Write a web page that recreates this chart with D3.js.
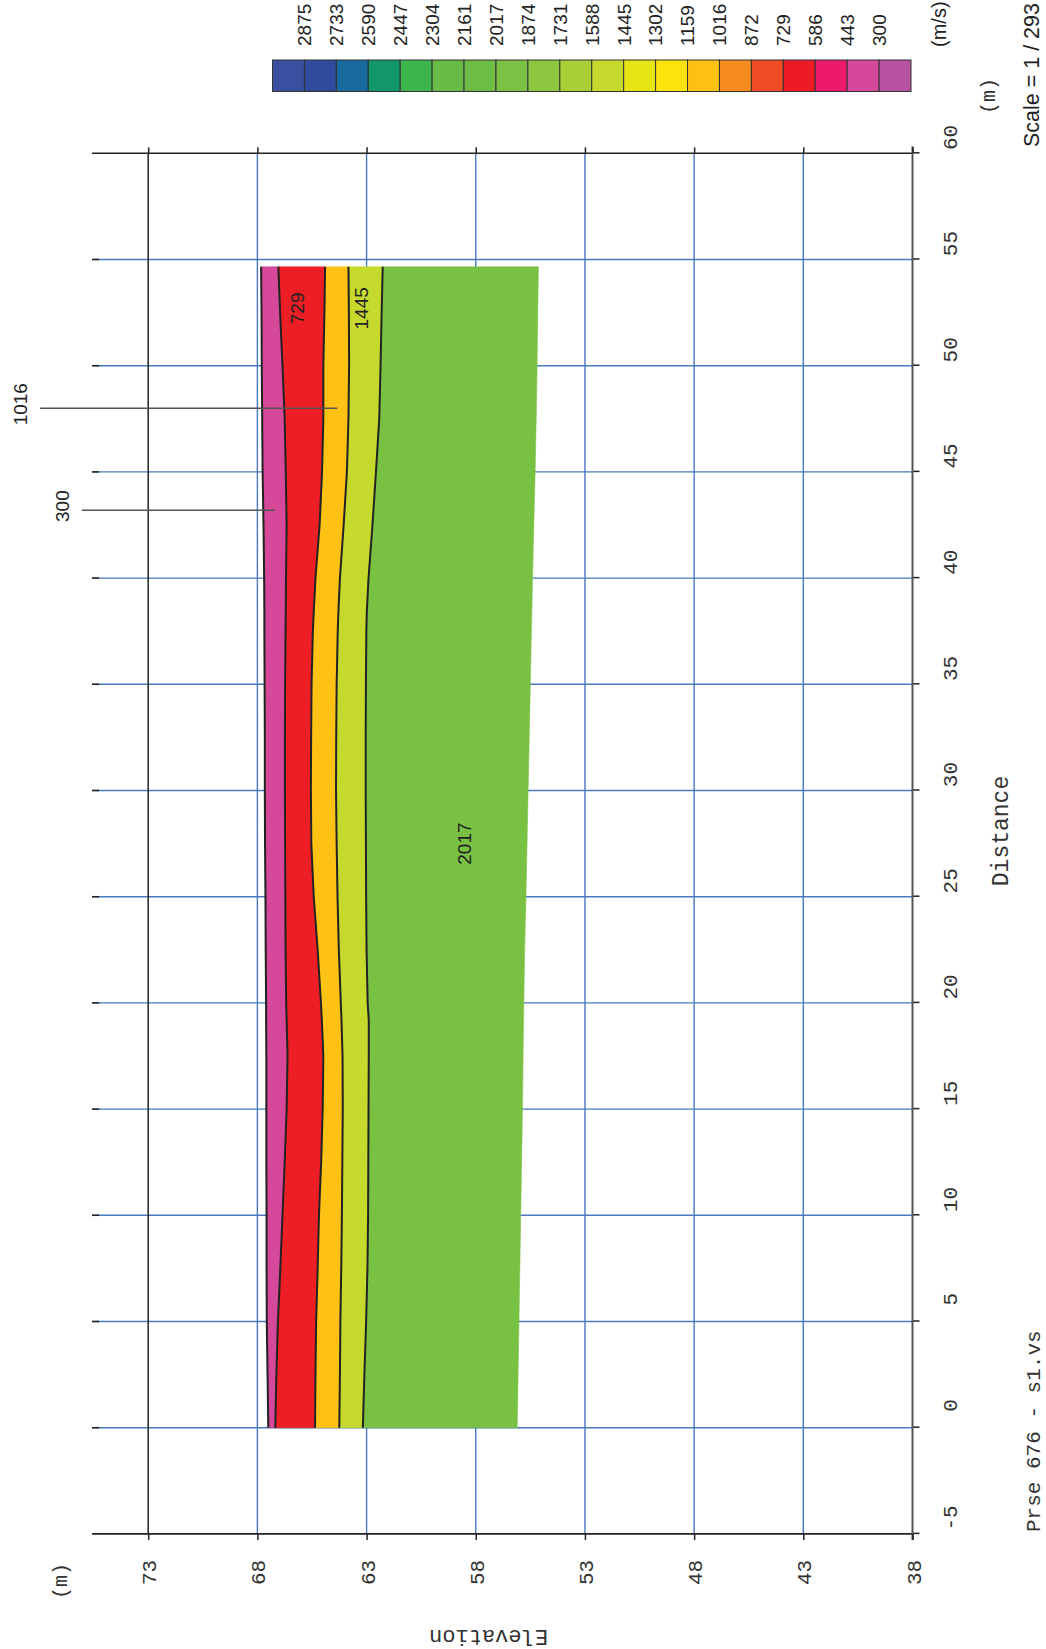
<!DOCTYPE html>
<html><head><meta charset="utf-8">
<script src="https://cdn.jsdelivr.net/npm/d3@7"></script>
<style>body{margin:0;background:#fff}</style>
</head><body><svg id="c" width="1046" height="1649"></svg>
<script>
// ---------------- data ----------------
const distTicks = [-5, 0, 5, 10, 15, 20, 25, 30, 35, 40, 45, 50, 55, 60];
const elevTicks = [73, 68, 63, 58, 53, 48, 43, 38];
const legendLabels = [2875, 2733, 2590, 2447, 2304, 2161, 2017, 1874, 1731, 1588, 1445, 1302, 1159, 1016, 872, 729, 586, 443, 300];
const legendColors = ['#3a4f9f','#2f4b9d','#196a9e','#12976a','#3cb54a','#68bb46','#6dbd45','#7bc143','#8dc63f','#a9cf38',
                      '#c6da2e','#e7e514','#fce30b','#fdc113','#f68b1f','#ef4b24','#ed1c24','#ec1a68','#d5489a','#b6529f'];

// distance along profile (m)
const dist = [0, 2.5, 5, 7.5, 10, 12.5, 15, 17.5, 19.2, 20, 22.5, 25, 27.5, 30, 32.5, 35, 37.5, 38.4, 40, 42.5, 45, 47.5, 50, 52.5, 54.66];
// elevations (m) of surfaces
const surfTop = [67.50, 67.535, 67.57, 67.58, 67.58, 67.59, 67.59, 67.59, 67.60, 67.60, 67.62, 67.63, 67.65, 67.66, 67.66, 67.67, 67.68, 67.68, 67.69, 67.72, 67.76, 67.78, 67.80, 67.81, 67.83];
const bound1  = [67.18, 67.13, 67.06, 66.95, 66.85, 66.75, 66.66, 66.62, 66.66, 66.68, 66.71, 66.72, 66.73, 66.74, 66.74, 66.73, 66.71, 66.70, 66.69, 66.66, 66.70, 66.75, 66.85, 66.96, 67.04];
const bound2  = [65.36, 65.34, 65.31, 65.24, 65.18, 65.08, 65.01, 64.98, 65.05, 65.09, 65.24, 65.42, 65.53, 65.55, 65.54, 65.52, 65.46, 65.42, 65.34, 65.15, 65.04, 64.98, 64.98, 64.93, 64.90];
const bound3  = [64.25, 64.22, 64.20, 64.16, 64.13, 64.11, 64.09, 64.10, 64.15, 64.18, 64.27, 64.33, 64.37, 64.40, 64.39, 64.37, 64.32, 64.29, 64.22, 64.05, 63.90, 63.83, 63.80, 63.81, 63.83];
const bound4  = [63.17, 63.10, 63.02, 62.96, 62.93, 62.92, 62.91, 62.90, 62.90, 62.95, 63.00, 63.02, 63.03, 63.04, 63.04, 63.03, 63.01, 62.99, 62.91, 62.73, 62.57, 62.42, 62.36, 62.31, 62.26];
const surfBot = [56.10, 56.06, 56.02, 55.98, 55.94, 55.90, 55.86, 55.83, 55.81, 55.80, 55.76, 55.70, 55.65, 55.60, 55.55, 55.50, 55.45, 55.43, 55.40, 55.34, 55.28, 55.23, 55.19, 55.16, 55.13];

const layerVel    = [300, 729, 1016, 1445, 2017];
const layerColors = ['#d5489a', '#ed1f24', '#fec214', '#c6da2d', '#79c143'];

// labels inside layers: [text, distance, elevation]
const innerLabels = [['729', 52.7, 66.20], ['1445', 52.7, 63.26], ['2017', 27.5, 58.53]];
// callouts: [text, distance, elevation of tip, elevation of start]
const callouts = [['1016', 48.0, 64.34, 77.95], ['300', 43.2, 67.19, 76.04]];

// ---------------- drawing ----------------
const W = 1046, H = 1649;
const MONO = '"Liberation Mono", "DejaVu Sans Mono", monospace';
const SANS = '"Liberation Sans", Arial, sans-serif';
const svg = d3.select('#c');
svg.append('rect').attr('width', W).attr('height', H).attr('fill', '#fff');
// chart drawn in its natural orientation, then rotated 90° counter-clockwise
const g = svg.append('g').attr('transform', `translate(0,${H}) rotate(-90)`);

const xD = d3.scaleLinear().domain([-5, 60]).range([115.1, 1495.7]);
const yE = d3.scaleLinear().domain([38, 73]).range([912.5, 148.2]);
const elevTop = 75.57;
const fTop = yE(elevTop), fBot = yE(38);
const BLUE = '#4a78c2', INK = '#222';

// grid
const grid = g.append('g');
distTicks.filter(d => d > -5 && d < 60).forEach(d => {
  grid.append('line').attr('x1', xD(d)).attr('x2', xD(d)).attr('y1', fTop).attr('y2', fBot)
    .attr('stroke', BLUE).attr('stroke-width', 1.4);
  grid.append('line').attr('x1', xD(d)).attr('x2', xD(d)).attr('y1', fTop).attr('y2', fTop + 7)
    .attr('stroke', INK).attr('stroke-width', 1.5);
});
elevTicks.filter(e => e > 38).forEach(e => {
  grid.append('line').attr('x1', xD(-5)).attr('x2', xD(60)).attr('y1', yE(e)).attr('y2', yE(e))
    .attr('stroke', e === 73 ? INK : BLUE).attr('stroke-width', e === 73 ? 1.5 : 1.4);
});

// section
const rows = dist.map((d, i) => ({d, s: [surfTop[i], bound1[i], bound2[i], bound3[i], bound4[i], surfBot[i]]}));
const sec = g.append('g');
layerVel.forEach((v, k) => {
  const area = d3.area().x(r => xD(r.d)).y0(r => yE(r.s[k + 1])).y1(r => yE(r.s[k]));
  sec.append('path').attr('d', area(rows)).attr('fill', layerColors[k]).attr('stroke', layerColors[k]).attr('stroke-width', 0.5);
});
for (let k = 0; k < 5; k++) {
  const line = d3.line().x(r => xD(r.d)).y(r => yE(r.s[k]));
  sec.append('path').attr('d', line(rows)).attr('fill', 'none').attr('stroke', INK).attr('stroke-width', 2);
}
innerLabels.forEach(([t, d, e]) => {
  sec.append('text').attr('x', xD(d)).attr('y', yE(e)).attr('dy', '0.36em').attr('text-anchor', 'middle')
    .style('font-family', SANS).style('font-size', '19px').attr('fill', INK).text(t);
});
callouts.forEach(([t, d, eTip, eStart]) => {
  sec.append('line').attr('x1', xD(d)).attr('x2', xD(d)).attr('y1', yE(eStart)).attr('y2', yE(eTip))
    .attr('stroke', '#555').attr('stroke-width', 1.5);
  sec.append('text').attr('x', xD(d) + 4).attr('y', yE(eStart) - 20).attr('dy', '0.36em').attr('text-anchor', 'middle')
    .style('font-family', SANS).style('font-size', '19px').attr('fill', INK).text(t);
});

// frame lines
[-5, 60].forEach(d => {
  g.append('line').attr('x1', xD(d)).attr('x2', xD(d)).attr('y1', fTop).attr('y2', fBot)
    .attr('stroke', INK).attr('stroke-width', 1.6);
});

// distance axis
const gx = g.append('g').attr('transform', `translate(0,${fBot})`)
  .call(d3.axisBottom(xD).tickValues(distTicks).tickSize(7).tickFormat(d => String(d)));
gx.select('.domain').remove();
gx.selectAll('line').attr('stroke', INK).attr('stroke-width', 1.5);
gx.selectAll('text').attr('x', 28).attr('y', 44.5).attr('dy', null).attr('text-anchor', 'end')
  .style('font-family', MONO).style('font-size', '21px').attr('fill', '#333');
g.append('line').attr('x1', xD(-5) - 6).attr('x2', xD(60) + 7).attr('y1', fBot).attr('y2', fBot)
  .attr('stroke', '#555').attr('stroke-width', 2);

// elevation axis (on the -5 frame)
const gy = g.append('g').attr('transform', `translate(${xD(-5)},0)`)
  .call(d3.axisLeft(yE).tickValues(elevTicks).tickSize(6).tickPadding(20).tickFormat(d => String(d)));
gy.select('.domain').remove();
gy.selectAll('line').attr('stroke', INK).attr('stroke-width', 1.5);
gy.selectAll('text').attr('dy', '0.36em').style('font-family', MONO).style('font-size', '21px').attr('fill', '#333');

const gy2 = g.append('g').attr('transform', `translate(${xD(60)},0)`)
  .call(d3.axisRight(yE).tickValues(elevTicks).tickSize(6).tickFormat(''));
gy2.select('.domain').remove();
gy2.selectAll('line').attr('stroke', INK).attr('stroke-width', 1.5);

// axis titles
g.append('text').attr('x', 818).attr('y', 1008).attr('text-anchor', 'middle')
  .style('font-family', MONO).style('font-size', '23px').attr('fill', '#333').text('Distance');
g.append('text').attr('transform', 'translate(19,488.5) rotate(-90)').attr('text-anchor', 'middle')
  .style('font-family', MONO).style('font-size', '22px').attr('fill', '#333').text('Elevation');
g.append('text').attr('x', 68).attr('y', 60).attr('dy', '0.36em').attr('text-anchor', 'middle')
  .style('font-family', MONO).style('font-size', '20px').attr('fill', '#333').text('(m)');
g.append('text').attr('x', 1553).attr('y', 988).attr('dy', '0.36em').attr('text-anchor', 'middle')
  .style('font-family', MONO).style('font-size', '20px').attr('fill', '#333').text('(m)');
g.append('text').attr('x', 117).attr('y', 1040).attr('text-anchor', 'start')
  .style('font-family', MONO).style('font-size', '21px').attr('fill', '#333').text('Prse 676 - s1.vs');

// legend
const ls = d3.scaleLinear().domain([0, legendColors.length]).range([272.5, 911]);
const lg = g.append('g');
legendColors.forEach((c, i) => {
  lg.append('rect').attr('x', 1557.5).attr('y', ls(i)).attr('width', 31.5).attr('height', ls(i + 1) - ls(i))
    .attr('fill', c).attr('stroke', '#333').attr('stroke-width', 1);
});
legendLabels.forEach((t, i) => {
  lg.append('text').attr('x', 1603).attr('y', ls(i + 1)).attr('dy', '0.36em')
    .style('font-family', SANS).style('font-size', '19px').attr('fill', INK).text(t);
});
lg.append('text').attr('x', 1602).attr('y', 939).attr('dy', '0.36em')
  .style('font-family', SANS).style('font-size', '20px').attr('fill', INK).text('(m/s)');
lg.append('text').attr('x', 1646).attr('y', 1031).attr('dy', '0.36em').attr('text-anchor', 'end')
  .style('font-family', SANS).style('font-size', '21.5px').attr('fill', INK).text('Scale = 1 / 293');
</script></body></html>
